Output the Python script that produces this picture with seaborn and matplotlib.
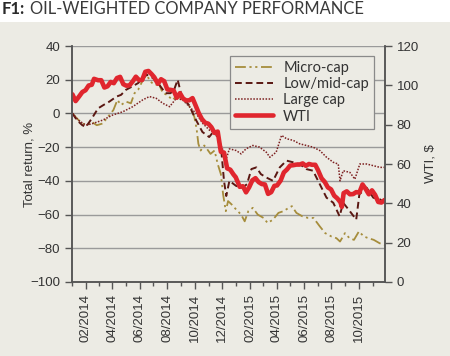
import pandas as pd
import numpy as np
import matplotlib
matplotlib.use("Agg")
import matplotlib.pyplot as plt
import matplotlib.dates as mdates
from matplotlib.patches import Rectangle
import seaborn as sns

# Values
micro_dates = ["2014-01-02", "2014-01-12", "2014-01-24", "2014-02-03", "2014-02-14", "2014-02-25",
               "2014-03-10", "2014-03-22", "2014-04-03", "2014-04-12", "2014-04-20", "2014-05-01",
               "2014-05-12", "2014-05-20", "2014-05-28", "2014-06-08", "2014-06-16", "2014-06-24",
               "2014-07-03", "2014-07-14", "2014-07-22", "2014-08-01", "2014-08-12", "2014-08-21",
               "2014-09-02", "2014-09-12", "2014-09-22", "2014-09-30", "2014-10-05", "2014-10-09",
               "2014-10-14", "2014-10-22", "2014-10-28", "2014-11-05", "2014-11-14", "2014-11-21",
               "2014-11-28", "2014-12-03", "2014-12-09", "2014-12-14", "2014-12-22", "2015-01-01",
               "2015-01-12", "2015-01-20", "2015-01-28", "2015-02-07", "2015-02-18", "2015-03-03",
               "2015-03-12", "2015-03-24", "2015-04-05", "2015-04-16", "2015-04-28", "2015-05-05",
               "2015-05-15", "2015-05-28", "2015-06-10", "2015-06-22", "2015-07-06", "2015-07-18",
               "2015-08-01", "2015-08-12", "2015-08-20", "2015-08-31", "2015-09-10", "2015-09-20",
               "2015-10-01", "2015-10-12", "2015-10-22", "2015-11-03", "2015-11-16", "2015-11-27"]
micro_cap = [0, -3, -6, -7, -5, -7, -6, -2, 2, 8, 5, 7, 6, 12, 14, 20, 23, 19, 17, 17, 12, 11, 8, 10,
             9, 7, 3, -2, -9, -18, -22, -19, -21, -24, -22, -30, -36, -48, -58, -52, -54, -57,
             -60, -64, -58, -56, -60, -62, -65, -63, -59, -58, -56, -55, -59, -61, -62, -62, -67, -71,
             -73, -74, -76, -71, -74, -75, -70, -73, -74, -75, -77, -78]

lowmid_dates = ["2014-01-02", "2014-01-12", "2014-01-24", "2014-02-01", "2014-02-14", "2014-02-28",
                "2014-03-12", "2014-03-25", "2014-04-10", "2014-04-20", "2014-05-01", "2014-05-15",
                "2014-05-28", "2014-06-08", "2014-06-16", "2014-06-30", "2014-07-14", "2014-07-28",
                "2014-08-08", "2014-08-16", "2014-08-24", "2014-09-02", "2014-09-18", "2014-10-04",
                "2014-10-18", "2014-11-02", "2014-11-14", "2014-11-21", "2014-11-29", "2014-12-05",
                "2014-12-10", "2014-12-17", "2015-01-01", "2015-01-15", "2015-01-25", "2015-02-04",
                "2015-02-15", "2015-02-25", "2015-03-09", "2015-03-24", "2015-04-08", "2015-04-23",
                "2015-05-08", "2015-05-22", "2015-06-06", "2015-06-21", "2015-07-06", "2015-07-21",
                "2015-08-05", "2015-08-19", "2015-08-27", "2015-09-08", "2015-09-25", "2015-10-02",
                "2015-10-18", "2015-11-02", "2015-11-17", "2015-11-27"]
low_mid_cap = [0, -4, -7, -8, -3, 3, 5, 7, 10, 11, 14, 16, 18, 21, 23, 21, 17, 12, 12, 14, 20, 10,
               5, -4, -11, -14, -10, -15, -22, -40, -49, -40, -43, -44, -42, -33, -32, -36, -38, -40,
               -32, -28, -29, -30, -33, -34, -42, -50, -53, -61, -53, -57, -63, -48, -44, -50, -51, -53]

large_dates = ["2014-01-02", "2014-01-15", "2014-02-01", "2014-02-16", "2014-03-10", "2014-04-01",
               "2014-04-24", "2014-05-16", "2014-06-07", "2014-06-22", "2014-07-07", "2014-07-22",
               "2014-08-06", "2014-08-21", "2014-09-04", "2014-09-19", "2014-10-04", "2014-10-19",
               "2014-11-03", "2014-11-18", "2014-12-03", "2014-12-10", "2014-12-17", "2015-01-01",
               "2015-01-12", "2015-01-23", "2015-02-07", "2015-02-22", "2015-03-09", "2015-03-17",
               "2015-03-31", "2015-04-12", "2015-04-23", "2015-05-08", "2015-05-22", "2015-06-06",
               "2015-06-21", "2015-07-06", "2015-07-21", "2015-08-05", "2015-08-16", "2015-08-20",
               "2015-08-27", "2015-09-11", "2015-09-22", "2015-10-03", "2015-10-18", "2015-11-02",
               "2015-11-17", "2015-11-27"]
large_cap = [0, -4, -7, -6, -4, -1, 1, 4, 8, 10, 9, 6, 4, 9, 8, 4, 0, -6, -10, -12, -22, -27, -21,
             -22, -24, -21, -19, -20, -23, -26, -23, -13, -15, -16, -18, -19, -20, -22, -26, -29,
             -30, -40, -34, -35, -39, -30, -30, -31, -32, -32]

wti_dates = ["2014-01-02", "2014-01-09", "2014-01-17", "2014-01-24", "2014-01-31", "2014-02-07",
             "2014-02-14", "2014-02-19", "2014-02-28", "2014-03-07", "2014-03-14", "2014-03-21",
             "2014-03-28", "2014-04-04", "2014-04-11", "2014-04-18", "2014-04-25", "2014-05-02",
             "2014-05-09", "2014-05-16", "2014-05-23", "2014-05-30", "2014-06-06", "2014-06-13",
             "2014-06-20", "2014-06-27", "2014-07-03", "2014-07-11", "2014-07-18", "2014-07-25",
             "2014-08-01", "2014-08-08", "2014-08-15", "2014-08-22", "2014-08-29", "2014-09-05",
             "2014-09-12", "2014-09-19", "2014-09-26", "2014-10-03", "2014-10-10", "2014-10-17",
             "2014-10-24", "2014-10-31", "2014-11-07", "2014-11-14", "2014-11-21", "2014-11-28",
             "2014-12-05", "2014-12-12", "2014-12-19", "2014-12-26", "2014-12-31", "2015-01-09",
             "2015-01-16", "2015-01-23", "2015-01-30", "2015-02-06", "2015-02-13", "2015-02-20",
             "2015-02-27", "2015-03-06", "2015-03-13", "2015-03-20", "2015-03-27", "2015-04-02",
             "2015-04-10", "2015-04-17", "2015-04-24", "2015-05-01", "2015-05-08", "2015-05-15",
             "2015-05-22", "2015-05-29", "2015-06-05", "2015-06-12", "2015-06-19", "2015-06-26",
             "2015-07-02", "2015-07-10", "2015-07-17", "2015-07-24", "2015-07-31", "2015-08-07",
             "2015-08-14", "2015-08-21", "2015-08-24", "2015-08-28", "2015-09-04", "2015-09-11",
             "2015-09-18", "2015-09-25", "2015-10-02", "2015-10-09", "2015-10-16", "2015-10-23",
             "2015-10-30", "2015-11-06", "2015-11-13", "2015-11-20", "2015-11-27"]
wti = [95.4, 92.0, 94.4, 96.6, 97.5, 99.9, 100.3, 103.3, 102.6, 102.6, 98.9, 99.5, 101.7, 101.1,
       103.7, 104.3, 100.6, 99.8, 100.0, 102.0, 104.4, 102.7, 102.7, 106.9, 107.3, 105.7, 104.1,
       100.8, 103.1, 102.1, 97.9, 97.7, 97.4, 93.7, 96.0, 93.3, 92.3, 92.4, 93.5, 89.7, 85.8, 82.8,
       81.0, 80.5, 78.7, 75.8, 76.5, 66.2, 65.8, 57.8, 57.1, 54.7, 53.3, 48.4, 48.7, 45.6, 48.2,
       51.7, 52.8, 50.8, 49.8, 49.6, 44.8, 45.7, 48.9, 49.1, 51.6, 55.7, 57.2, 59.2, 59.4, 59.7,
       59.7, 60.3, 59.1, 60.0, 59.6, 59.6, 56.9, 52.7, 50.9, 48.1, 47.1, 43.9, 42.5, 40.5, 38.2,
       45.2, 46.1, 44.6, 44.7, 45.7, 45.5, 49.6, 47.3, 44.6, 46.6, 44.3, 40.7, 40.4, 41.7]

left_ticks = [40, 20, 0, -20, -40, -60, -80, -100]
right_ticks = [0, 20, 40, 60, 80, 100, 120]

BG = "#ecebe4"
TXT = "#333333"
SPINE = "#555555"

sns.set_style("ticks")
plt.rcParams['font.family'] = ['Liberation Sans', 'DejaVu Sans']

fig = plt.figure(figsize=(4.5, 3.56), dpi=100, facecolor="white")
fig.patches.append(Rectangle((0, 0), 1, 1 - 22 / 356, transform=fig.transFigure,
                             facecolor=BG, edgecolor="none", zorder=-10))
ax = fig.add_axes([72 / 450, 1 - 282 / 356, (385 - 72) / 450, (282 - 46) / 356])
ax.set_facecolor(BG)

sns.lineplot(x=pd.to_datetime(micro_dates), y=micro_cap, ax=ax, color="#a68d3c",
             linewidth=1.3, linestyle=(0, (6, 2, 1.2, 2, 1.2, 2)), label="Micro-cap", legend=False)
sns.lineplot(x=pd.to_datetime(lowmid_dates), y=low_mid_cap, ax=ax, color="#5a1712",
             linewidth=1.4, linestyle=(0, (3.5, 2)), label="Low/mid-cap", legend=False)
sns.lineplot(x=pd.to_datetime(large_dates), y=large_cap, ax=ax, color="#7d2020",
             linewidth=1.1, linestyle=(0, (1, 1)), label="Large cap", legend=False)

ax2 = ax.twinx()
sns.lineplot(x=pd.to_datetime(wti_dates), y=wti, ax=ax2, color="#e0262e",
             linewidth=3.3, label="WTI", legend=False)

ax.set_ylim(-100, 40)
ax.set_yticks(left_ticks)
ax2.set_ylim(0, 120)
ax2.set_yticks(right_ticks)
ax.set_xlim(pd.Timestamp("2014-01-01"), pd.Timestamp("2015-11-28"))

ax.xaxis.set_major_locator(mdates.MonthLocator(bymonth=[2, 4, 6, 8, 10, 12]))
ax.xaxis.set_minor_locator(mdates.MonthLocator())
ax.xaxis.set_major_formatter(mdates.DateFormatter("%m/%Y"))
plt.setp(ax.get_xticklabels(), rotation=90)

ax.grid(axis="y", color="#9a9a9a", linewidth=1.0)
ax.set_axisbelow(True)

for a in (ax, ax2):
    a.spines["top"].set_visible(False)
    for s in ("left", "right", "bottom"):
        a.spines[s].set_color(SPINE)
        a.spines[s].set_linewidth(1.1)
    a.tick_params(which="both", colors=SPINE, labelcolor=TXT, labelsize=9.5, width=1.0)
    a.tick_params(which="major", length=5)
    a.tick_params(which="minor", length=3)
ax.set_xlabel("")
ax.set_ylabel("Total return, %", fontsize=9.5, color=TXT, labelpad=-4)
ax2.set_ylabel("WTI, $", fontsize=9.5, color=TXT, labelpad=4)

h1, l1 = ax.get_legend_handles_labels()
h2, l2 = ax2.get_legend_handles_labels()
leg = ax2.legend(h1 + h2, l1 + l2, loc="upper right", bbox_to_anchor=(0.965, 0.958),
                 borderaxespad=0, fancybox=False, framealpha=1, facecolor=BG, edgecolor="#8a8a8a",
                 prop={"family": "Lato", "size": 10.5}, handlelength=2.6,
                 borderpad=0.35, labelspacing=0.15, handletextpad=0.7)
leg.get_frame().set_linewidth(0.9)
for t in leg.get_texts():
    t.set_color(TXT)

fig.text(2 / 450, 1 - 14 / 356, "F1:", fontsize=12, color="#2a2a2a", family="Lato", fontweight="bold")
fig.text(30 / 450, 1 - 14 / 356, "OIL-WEIGHTED COMPANY PERFORMANCE", fontsize=11.9, color="#3a3a3a",
         family="Lato", fontweight="normal")

fig.savefig("out.png", dpi=100, facecolor="white")
